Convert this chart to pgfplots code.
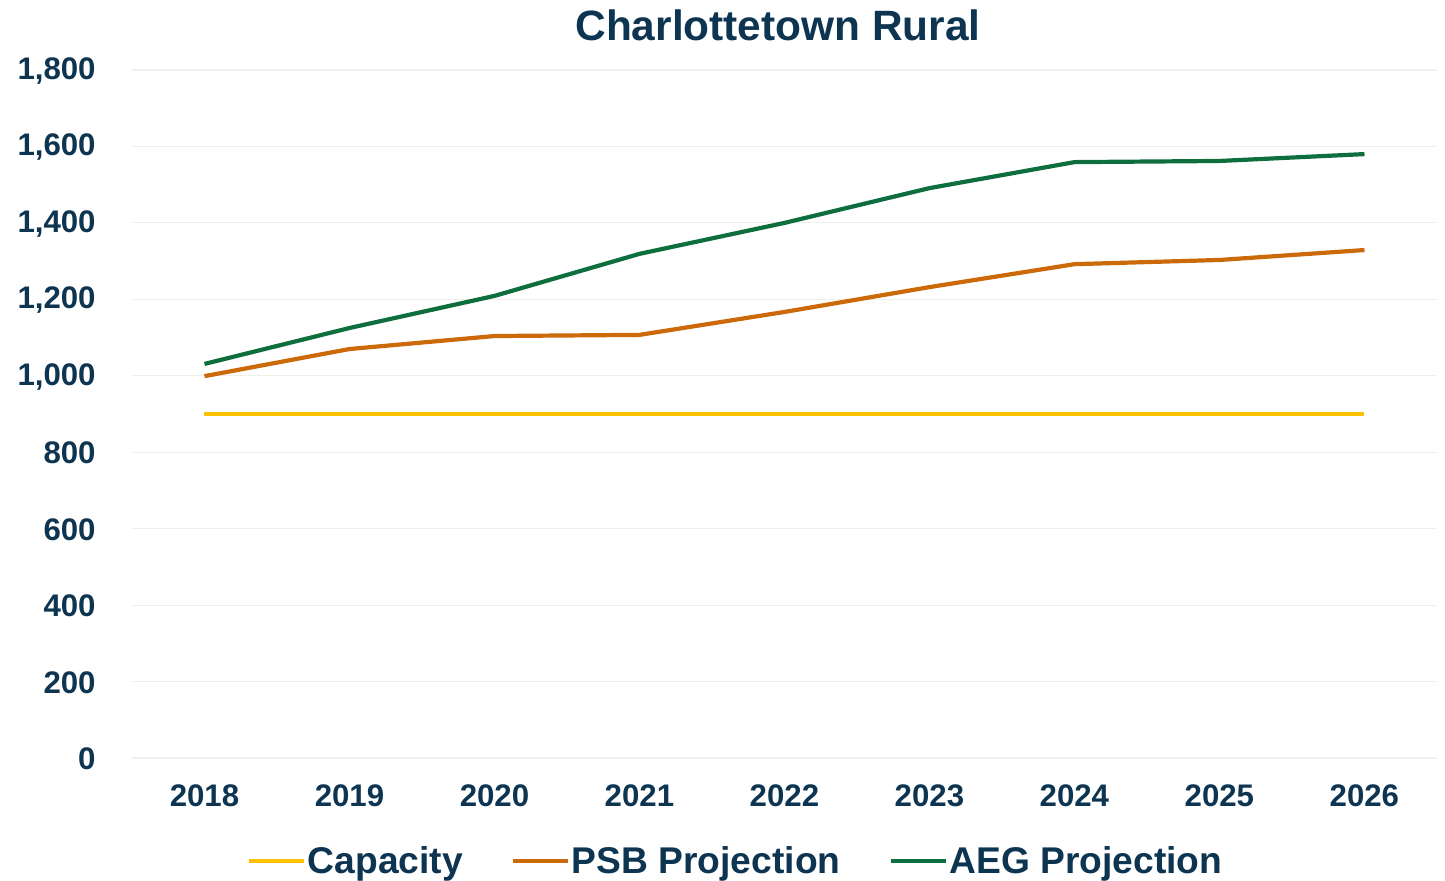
\documentclass[border=0pt]{standalone}
\usepackage{pgfplots}
\pgfplotsset{compat=1.18}
\usepackage{fontspec}
\setmainfont{Liberation Sans}
\definecolor{navyc}{HTML}{0D3450}
\definecolor{capc}{HTML}{FFC000}
\definecolor{psbc}{HTML}{CC6A0A}
\definecolor{aegc}{HTML}{0F6E3E}
\definecolor{gridc}{HTML}{F0F0EA}
\begin{document}
\begin{tikzpicture}
\path[use as bounding box] (-66pt,-61pt) rectangle (656.5pt,379pt);
\begin{axis}[
  scale only axis, width=652.5pt, height=344pt,
  anchor=south west, at={(0,0)},
  xmin=2017.5, xmax=2026.5, ymin=0, ymax=1800,
  xtick={2018,...,2026}, ytick={0,200,...,1800},
  axis line style={draw=none},
  major tick length=0pt,
  ymajorgrids, grid style={gridc, line width=0.6pt},
  /pgf/number format/assume math mode=true,
  tick label style={font=\fontsize{15.6}{18}\selectfont\bfseries, text=navyc, inner sep=0pt},
  y tick label style={anchor=east, xshift=-18pt, yshift=-0.5pt, /pgf/number format/1000 sep={,}},
  x tick label style={anchor=north, yshift=-13.3pt, /pgf/number format/1000 sep={}},
  legend columns=-1,
  legend style={draw=none, fill=none, at={(0.4625,-0.150)}, anchor=center,
    font=\fontsize{18.6}{22}\selectfont\bfseries, text=navyc,
    nodes={inner sep=1pt},
    /tikz/every even column/.append style={column sep=23pt}},
  legend image code/.code={\draw[#1, line width=2pt] (0pt,0pt) -- (27.5pt,0pt);},
  every axis plot/.append style={line width=2.1pt, no markers},
]
\addplot[color=capc] coordinates {(2018,900) (2019,900) (2020,900) (2021,900) (2022,900) (2023,900) (2024,900) (2025,900) (2026,900)};
\addlegendentry{Capacity}
\addplot[color=psbc] coordinates {(2018,999) (2019,1070) (2020,1104) (2021,1107) (2022,1167) (2023,1232) (2024,1292) (2025,1303) (2026,1329)};
\addlegendentry{PSB Projection}
\addplot[color=aegc] coordinates {(2018,1031) (2019,1125) (2020,1209) (2021,1319) (2022,1400) (2023,1491) (2024,1559) (2025,1562) (2026,1580)};
\addlegendentry{AEG Projection}
\end{axis}
\node[anchor=base, text=navyc, font=\fontsize{21.2}{25}\selectfont\bfseries] at (323pt,358.5pt) {Charlottetown Rural};
\end{tikzpicture}
\end{document}
